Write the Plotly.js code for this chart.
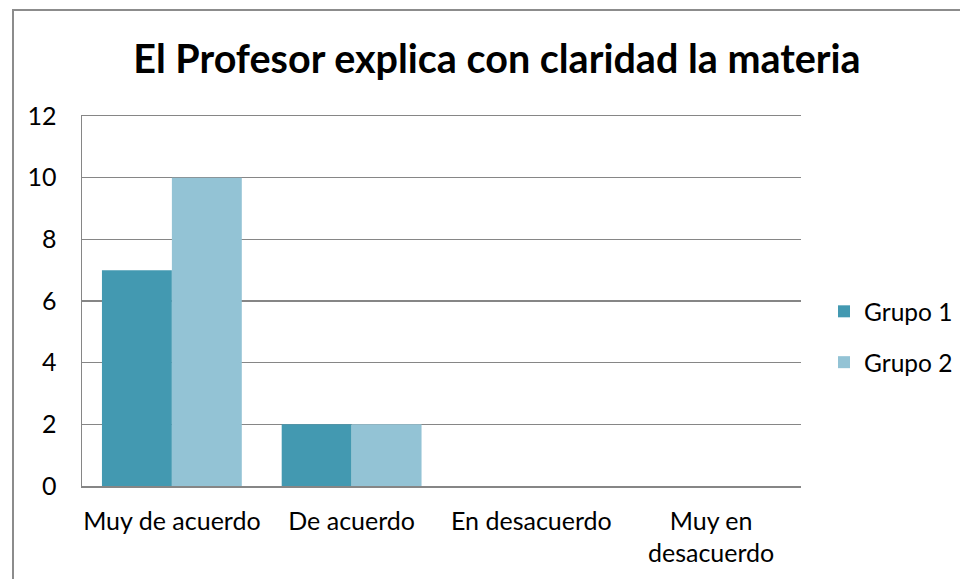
<!DOCTYPE html>
<html>
<head>
<meta charset="utf-8">
<script src="https://cdn.plot.ly/plotly-3.0.1.min.js"></script>
<style>
html,body{margin:0;padding:0;background:#fff;overflow:hidden;}
#chart{width:960px;height:579px;position:absolute;left:0;top:0;}
#frame{position:absolute;left:12px;top:9px;width:1000px;height:620px;border:2px solid #8c8c8c;box-sizing:border-box;pointer-events:none;}
</style>
</head>
<body>
<div id="chart"></div>
<div id="frame"></div>
<script>
const categories = ["Muy de acuerdo", "De acuerdo", "En desacuerdo", "Muy en<br>desacuerdo"];
const seriesNames = ["Grupo 1", "Grupo 2"];
const grupo1 = [7, 2, 0, 0];
const grupo2 = [10, 2, 0, 0];
const yTicks = [0, 2, 4, 6, 8, 10, 12];

const FONT = "Lato, 'Open Sans', sans-serif";
const colors = ["#4399b1", "#93c3d5"];

const traces = [grupo1, grupo2].map((vals, i) => ({
  type: "bar",
  x: categories,
  y: vals,
  name: seriesNames[i],
  legendgroup: "g" + i,
  marker: {color: colors[i], line: {width: 0}},
  hoverinfo: "x+y+name"
}));

const layout = {
  width: 960, height: 579,
  margin: {l: 82, r: 159, t: 116, b: 93, autoexpand: false},
  paper_bgcolor: "#ffffff",
  plot_bgcolor: "#ffffff",
  font: {family: FONT, color: "#000000", size: 25},
  title: {
    text: "<b>El Profesor explica con claridad la materia</b>",
    font: {family: FONT, size: 39.5, color: "#000000"},
    x: 497 / 960, xref: "container", xanchor: "center",
    y: 1 - 59 / 579, yref: "container", yanchor: "middle"
  },
  barmode: "group",
  bargap: 0.222,
  bargroupgap: 0,
  xaxis: {
    type: "category",
    showline: true, linecolor: "#868686", linewidth: 1.5, mirror: true,
    showgrid: false, zeroline: false,
    ticks: "", ticklabelstandoff: 12,
    tickfont: {family: FONT, size: 25, color: "#000000"}
  },
  yaxis: {
    range: [0, 12],
    tickvals: yTicks,
    ticktext: yTicks.map(String),
    showline: true, linecolor: "#868686", linewidth: 1.5,
    showgrid: true, gridcolor: "#868686", gridwidth: 1.3,
    zeroline: false,
    ticks: "", ticklabelstandoff: 19,
    tickfont: {family: FONT, size: 25, color: "#000000"}
  },
  showlegend: true,
  legend: {
    x: 0.032, xref: "paper", xanchor: "left",
    y: 0.403, yanchor: "middle",
    traceorder: "grouped",
    tracegroupgap: 16,
    font: {family: FONT, size: 24.5, color: "#000000"},
    itemwidth: 30,
    bgcolor: "rgba(0,0,0,0)"
  }
};
layout.legend.x = 1.032;

Plotly.newPlot("chart", traces, layout, {displayModeBar: false, staticPlot: true});
</script>
</body>
</html>
